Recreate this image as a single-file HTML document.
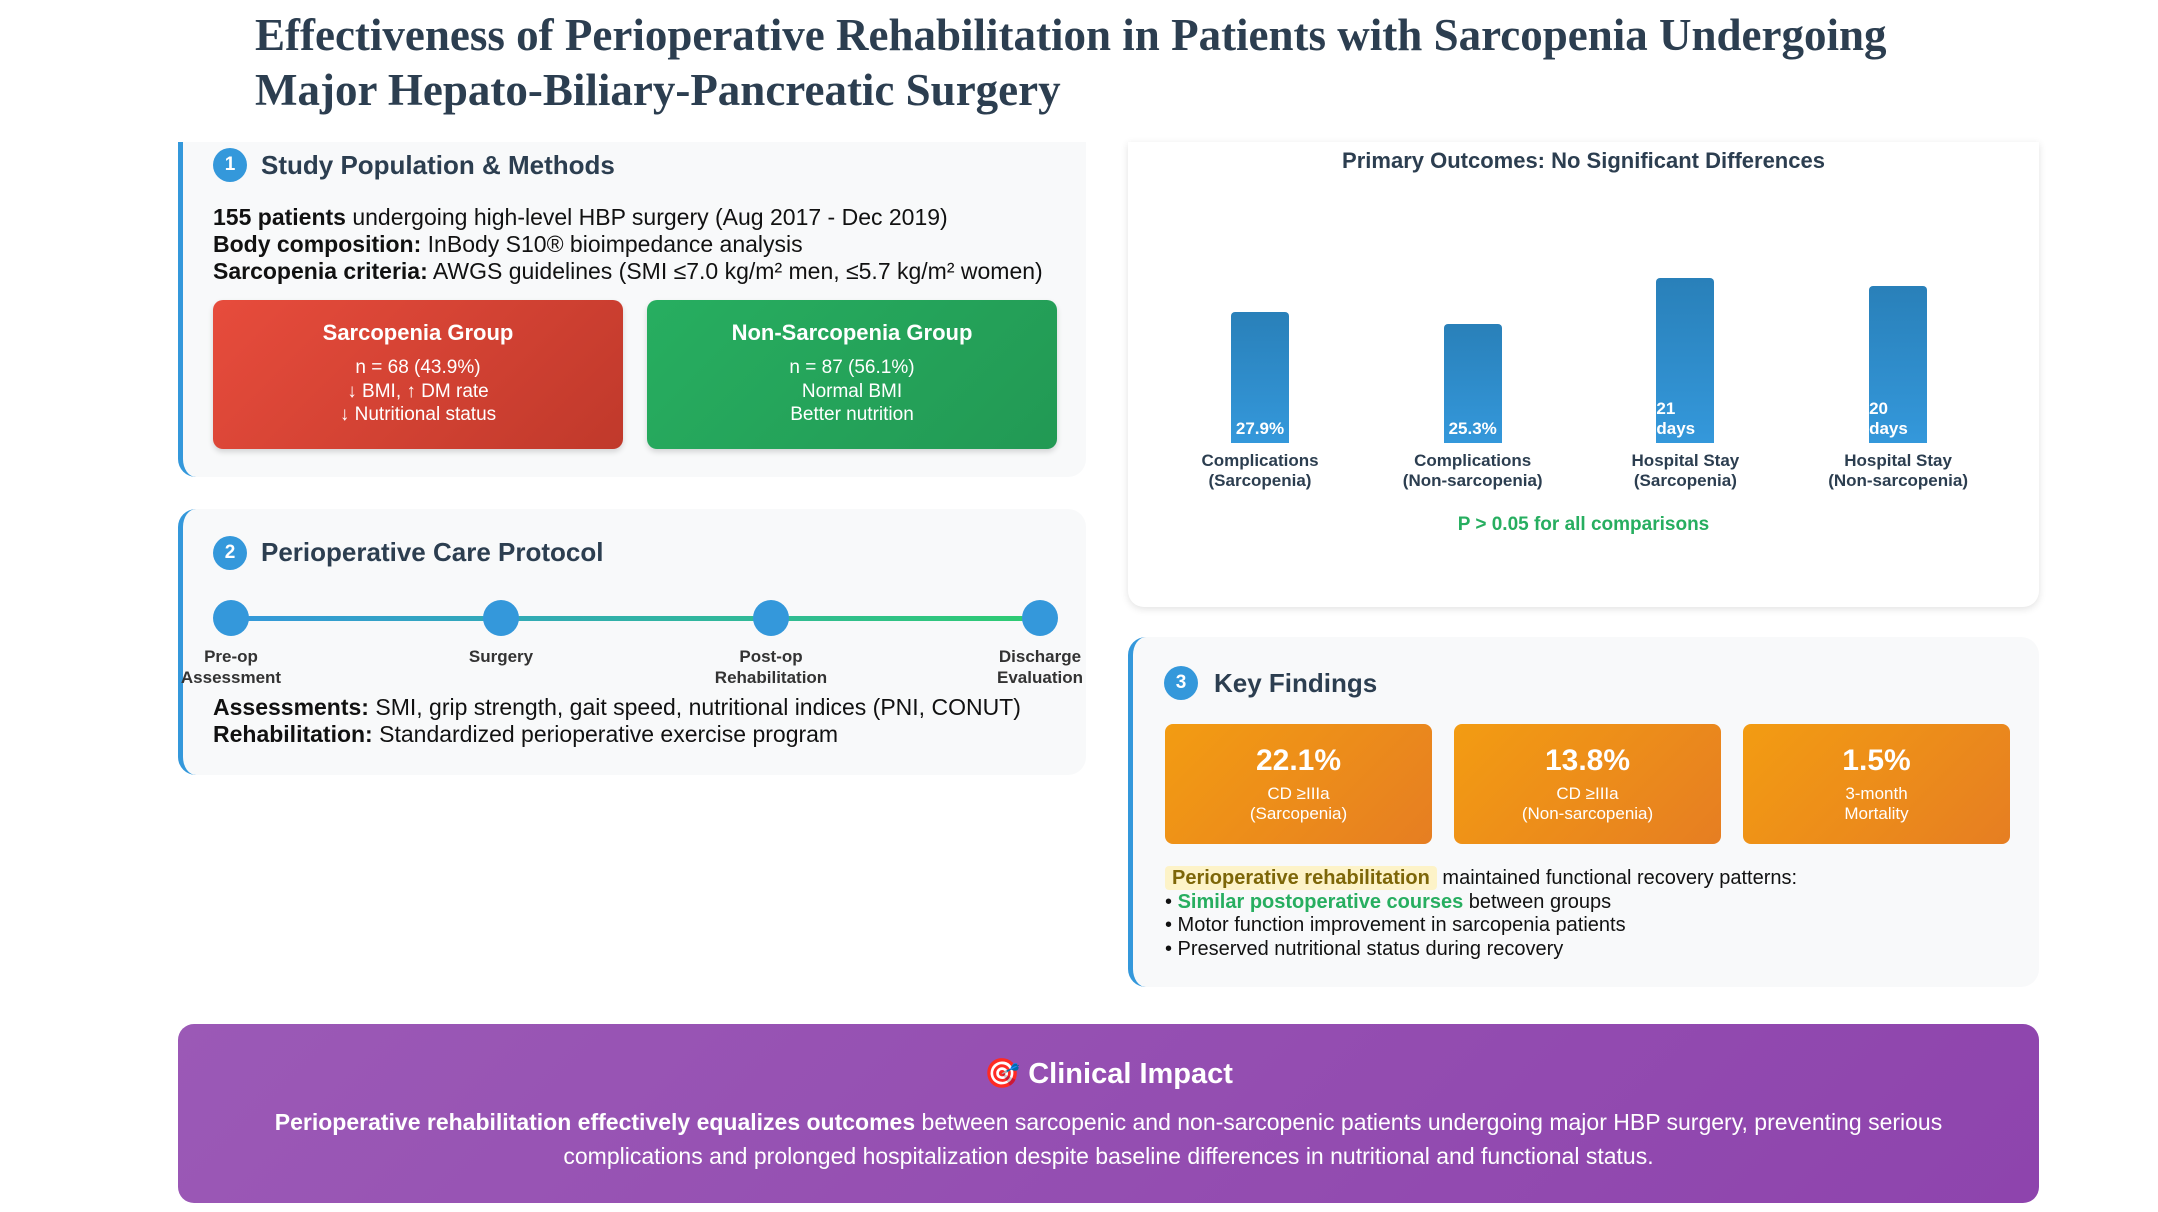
<!DOCTYPE html>
<html><head><meta charset="utf-8">
<style>
*{margin:0;padding:0;box-sizing:border-box}
body{width:2158px;height:1212px;background:#fff;position:relative;overflow:hidden;font-family:"Liberation Sans",sans-serif;color:#111}
.abs{position:absolute}
.title{left:255px;top:8px;font-family:"Liberation Serif",serif;font-weight:bold;font-size:45px;line-height:55px;color:#2c3e50}
.panel{position:absolute;background:#f8f9fa;border-left:5px solid #3498db;border-radius:0 0 18px 18px}
.num{position:absolute;width:34px;height:34px;border-radius:50%;background:#3498db;color:#fff;font-weight:bold;font-size:19px;text-align:center;line-height:34px}
.h{position:absolute;font-weight:bold;font-size:26px;color:#2c3e50;line-height:30px}
.txt{position:absolute;font-size:23px;line-height:27px;white-space:nowrap}
.grp{position:absolute;border-radius:10px;color:#fff;text-align:center;box-shadow:0 3px 6px rgba(0,0,0,.15)}
.grp b{display:block;font-size:22px;margin-top:20px;margin-bottom:10px}
.grp div{font-size:19px;line-height:23.5px}
.node{position:absolute;width:36px;height:36px;border-radius:50%;background:#3498db}
.nl{position:absolute;width:200px;text-align:center;font-weight:bold;font-size:17px;line-height:21px;color:#333}
.ob{position:absolute;top:724px;width:267px;height:120px;border-radius:8px;background:linear-gradient(135deg,#f39c12,#e67e22);color:#fff;text-align:center}
.ob b{display:block;font-size:30px;margin-top:20px;line-height:34px}
.ob div{font-size:17px;line-height:20px;margin-top:6px}
</style></head><body>
<div class="abs title">Effectiveness of Perioperative Rehabilitation in Patients with Sarcopenia Undergoing<br>Major Hepato-Biliary-Pancreatic Surgery</div>

<div class="panel" style="left:178px;top:142px;width:908px;height:335px"></div>
<div class="num" style="left:213px;top:148px">1</div>
<div class="h" style="left:261px;top:150px">Study Population &amp; Methods</div>
<div class="txt" style="left:213px;top:204px"><b>155 patients</b> undergoing high-level HBP surgery (Aug 2017 - Dec 2019)</div>
<div class="txt" style="left:213px;top:231px"><b>Body composition:</b> InBody S10® bioimpedance analysis</div>
<div class="txt" style="left:213px;top:258px"><b>Sarcopenia criteria:</b> AWGS guidelines (SMI ≤7.0 kg/m² men, ≤5.7 kg/m² women)</div>
<div class="grp" style="left:213px;top:300px;width:410px;height:149px;background:linear-gradient(135deg,#e74c3c,#c0392b)"><b>Sarcopenia Group</b><div>n = 68 (43.9%)<br>↓ BMI, ↑ DM rate<br>↓ Nutritional status</div></div>
<div class="grp" style="left:647px;top:300px;width:410px;height:149px;background:linear-gradient(135deg,#27ae60,#229954)"><b>Non-Sarcopenia Group</b><div>n = 87 (56.1%)<br>Normal BMI<br>Better nutrition</div></div>

<div class="panel" style="left:178px;top:509px;width:908px;height:266px;border-radius:18px"></div>
<div class="num" style="left:213px;top:536px">2</div>
<div class="h" style="left:261px;top:537px">Perioperative Care Protocol</div>
<div class="abs" style="left:231px;top:616px;width:809px;height:5px;background:linear-gradient(90deg,#3498db,#2ecc71)"></div>
<div class="node" style="left:213px;top:600px"></div>
<div class="node" style="left:483px;top:600px"></div>
<div class="node" style="left:753px;top:600px"></div>
<div class="node" style="left:1022px;top:600px"></div>
<div class="nl" style="left:131px;top:646px">Pre-op<br>Assessment</div>
<div class="nl" style="left:401px;top:646px">Surgery</div>
<div class="nl" style="left:671px;top:646px">Post-op<br>Rehabilitation</div>
<div class="nl" style="left:940px;top:646px">Discharge<br>Evaluation</div>
<div class="txt" style="left:213px;top:694px"><b>Assessments:</b> SMI, grip strength, gait speed, nutritional indices (PNI, CONUT)</div>
<div class="txt" style="left:213px;top:721px"><b>Rehabilitation:</b> Standardized perioperative exercise program</div>

<div class="abs" style="left:1128px;top:142px;width:911px;height:465px;background:#fff;border-radius:0 0 16px 16px;box-shadow:0 2px 8px rgba(0,0,0,.12)"></div>
<div class="abs" style="left:1128px;top:148px;width:911px;text-align:center;font-weight:bold;font-size:22px;color:#2c3e50">Primary Outcomes: No Significant Differences</div>
<div id="chart" class="abs" style="left:1128px;top:142px;width:911px;height:465px"></div>
<div class="abs" style="left:1128px;top:514px;width:911px;text-align:center;font-weight:bold;font-size:19px;color:#27ae60">P &gt; 0.05 for all comparisons</div>

<div class="panel" style="left:1128px;top:637px;width:911px;height:350px;border-radius:18px"></div>
<div class="num" style="left:1164px;top:666px">3</div>
<div class="h" style="left:1214px;top:668px">Key Findings</div>
<div class="ob" style="left:1165px"><b>22.1%</b><div>CD ≥IIIa<br>(Sarcopenia)</div></div>
<div class="ob" style="left:1454px"><b>13.8%</b><div>CD ≥IIIa<br>(Non-sarcopenia)</div></div>
<div class="ob" style="left:1743px"><b>1.5%</b><div>3-month<br>Mortality</div></div>
<div class="abs" style="left:1165px;top:867px;font-size:20px;line-height:23.5px;white-space:nowrap">
<div><span style="background:#fdf3c8;color:#7d6608;font-weight:bold;padding:1px 7px;border-radius:4px">Perioperative rehabilitation</span> maintained functional recovery patterns:</div>
<div>• <b style="color:#27ae60">Similar postoperative courses</b> between groups</div>
<div>• Motor function improvement in sarcopenia patients</div>
<div>• Preserved nutritional status during recovery</div>
</div>

<div class="abs" style="left:178px;top:1024px;width:1861px;height:179px;border-radius:16px;background:linear-gradient(135deg,#9b59b6,#8e44ad);color:#fff;text-align:center">
<div style="font-weight:bold;font-size:29px;margin-top:33px">🎯 Clinical Impact</div>
<div style="font-size:23px;line-height:34px;margin-top:14px;padding:0 50px"><b>Perioperative rehabilitation effectively equalizes outcomes</b> between sarcopenic and non-sarcopenic patients undergoing major HBP surgery, preventing serious complications and prolonged hospitalization despite baseline differences in nutritional and functional status.</div>
</div>

<script>
const categories=["Complications (Sarcopenia)","Complications (Non-sarcopenia)","Hospital Stay (Sarcopenia)","Hospital Stay (Non-sarcopenia)"];
const catLine1=["Complications","Complications","Hospital Stay","Hospital Stay"];
const catLine2=["(Sarcopenia)","(Non-sarcopenia)","(Sarcopenia)","(Non-sarcopenia)"];
const values=[27.9,25.3,21,20];
const units=["%","%","days","days"];
const labels=["27.9%","25.3%","21 days","20 days"];
(function(){
  const c=document.getElementById('chart');
  const baseY=301, barW=58;
  function xPos(i){return 132+i*212.7;}
  function hScale(v,u){return u==="%"?v*4.7:v*7.85;}
  categories.forEach((cat,i)=>{
    const h=hScale(values[i],units[i]);
    const b=document.createElement('div');
    
    
    b.style.cssText=`position:absolute;left:${xPos(i)-barW/2}px;top:${baseY-h}px;width:${barW}px;height:${h}px;background:linear-gradient(180deg,#2980b9,#3498db);border-radius:4px 4px 0 0;color:#fff;font-weight:bold;font-size:17px;line-height:20px`;
    const t=document.createElement('div');
    
    
    t.style.cssText=`position:absolute;bottom:4px;${units[i]==="%"?'left:0;width:100%;text-align:center':'left:0'}`;
    t.innerHTML=units[i]==="%"?labels[i]:labels[i].replace(' ','<br>');
    b.appendChild(t);c.appendChild(b);
    const l=document.createElement('div');
    
    
    l.style.cssText=`position:absolute;left:${xPos(i)-100}px;top:${baseY+8}px;width:200px;text-align:center;font-weight:bold;font-size:17px;line-height:20px;color:#2c3e50`;
    l.innerHTML=catLine1[i]+'<br>'+catLine2[i];
    c.appendChild(l);
  });
})();
</script>
</body></html>
